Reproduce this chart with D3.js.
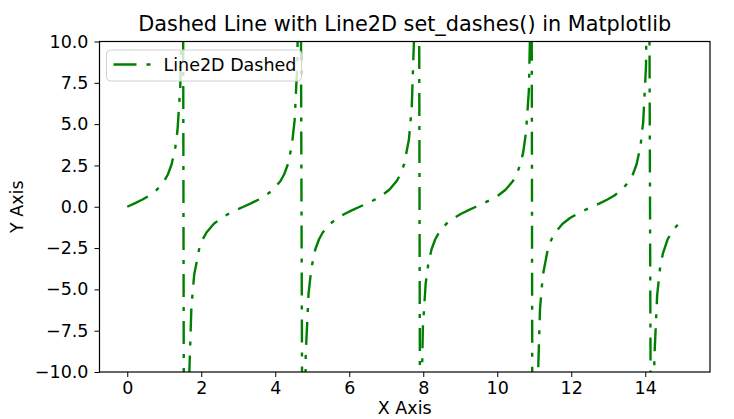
<!DOCTYPE html>
<html>
<head>
<meta charset="utf-8">
<script src="https://cdn.jsdelivr.net/npm/d3@7"></script>
<style>
  html, body { margin: 0; padding: 0; background: #fff; }
  svg text { font-family: "DejaVu Sans", sans-serif; fill: #000; }
</style>
</head>
<body>
<div id="chart"></div>
<script>
const xValues = [
  0, 0.2, 0.4, 0.6, 0.8, 1.0, 1.1, 1.2, 1.3, 1.3568, 1.4322, 1.5075,
  1.5829, 1.6583, 1.7337, 1.8090, 1.9416, 2.0416, 2.1416, 2.3416, 2.5416, 2.7416, 2.9416, 3.1416,
  3.3416, 3.5416, 3.7416, 3.9416, 4.1416, 4.2416, 4.3416, 4.4472, 4.5226, 4.5980, 4.6734,
  4.7487, 4.8241, 4.8995, 4.9749, 5.0832, 5.1832, 5.2832, 5.4832, 5.6832, 5.8832, 6.0832, 6.2832,
  6.4832, 6.6832, 6.8832, 7.0832, 7.2832, 7.3832, 7.4832, 7.6131, 7.6884, 7.7638, 7.8392,
  7.9146, 7.9899, 8.0653, 8.1407, 8.2248, 8.3248, 8.4248, 8.6248, 8.8248, 9.0248, 9.2248, 9.4248,
  9.6248, 9.8248, 10.0248, 10.2248, 10.4248, 10.5248, 10.6248, 10.7035, 10.7789, 10.8543, 10.9296,
  11.0050, 11.0804, 11.1558, 11.2312, 11.3664, 11.4664, 11.5664, 11.7664, 11.9664, 12.1664, 12.3664, 12.5664,
  12.7664, 12.9664, 13.1664, 13.3664, 13.5664, 13.6664, 13.7664, 13.8693, 13.9447, 14.0201, 14.0955,
  14.1709, 14.2462, 14.3216, 14.3970, 14.4724, 14.6, 14.708, 14.85, 15
];
const yValues = [
  0, 0.203, 0.423, 0.684, 1.030, 1.557, 1.965, 2.572, 3.602, 4.60, 7.17, 15.78,
  -82.6, -11.40, -6.08, -4.12, -2.572, -1.965, -1.557, -1.030, -0.684, -0.423, -0.203, 0,
  0.203, 0.423, 0.684, 1.030, 1.557, 1.965, 2.572, 3.68, 5.21, 8.70, 25.6,
  -27.5, -8.91, -5.28, -3.72, -2.572, -1.965, -1.557, -1.030, -0.684, -0.423, -0.203, 0,
  0.203, 0.423, 0.684, 1.030, 1.557, 1.965, 2.572, 4.07, 5.98, 11.06, 67.6,
  -16.48, -7.32, -4.66, -3.39, -2.572, -1.965, -1.557, -1.030, -0.684, -0.423, -0.203, 0,
  0.203, 0.423, 0.684, 1.030, 1.557, 1.965, 2.572, 3.32, 4.54, 7.03, 15.13,
  -106.4, -11.76, -6.19, -4.16, -2.572, -1.965, -1.557, -1.030, -0.684, -0.423, -0.203, 0,
  0.203, 0.423, 0.684, 1.030, 1.557, 1.965, 2.572, 3.64, 5.13, 8.50, 23.97,
  -29.66, -9.14, -5.36, -3.76, -2.87, -2.00, -1.557, -1.157, -0.856
];
const xTicks = [0, 2, 4, 6, 8, 10, 12, 14];
const yTicks = [-10, -7.5, -5, -2.5, 0, 2.5, 5, 7.5, 10];
const xDomain = [-0.75, 15.75];
const yDomain = [-10, 10];

const W = 734, H = 419;
const margin = { left: 99.5, right: 24, top: 41.5, bottom: 47 };
const lineColor = "#008000";
const dashes = "23,10,4,10";
const fontSize = 17.5;

const svg = d3.select("#chart").append("svg")
  .attr("width", W).attr("height", H);

const x = d3.scaleLinear().domain(xDomain).range([margin.left, W - margin.right]);
const y = d3.scaleLinear().domain(yDomain).range([H - margin.bottom, margin.top]);

svg.append("defs").append("clipPath").attr("id", "plot-clip")
  .append("rect")
  .attr("x", x.range()[0]).attr("y", y.range()[1])
  .attr("width", x.range()[1] - x.range()[0])
  .attr("height", y.range()[0] - y.range()[1]);

const pts = xValues.map((v, i) => [v, yValues[i]]);
const line = d3.line().x(d => x(d[0])).y(d => y(d[1]));

svg.append("path")
  .datum(pts)
  .attr("clip-path", "url(#plot-clip)")
  .attr("d", line)
  .attr("fill", "none")
  .attr("stroke", lineColor)
  .attr("stroke-width", 2.4)
  .attr("stroke-dasharray", dashes)
  .attr("stroke-linejoin", "round");

// axes
const fmtY = d => d3.format(".1f")(d).replace("-", "\u2212");
const xAxis = svg.append("g")
  .attr("transform", `translate(0,${y.range()[0]})`)
  .call(d3.axisBottom(x).tickValues(xTicks).tickSize(5).tickPadding(5).tickFormat(d3.format("d")));
const yAxis = svg.append("g")
  .attr("transform", `translate(${x.range()[0]},0)`)
  .call(d3.axisLeft(y).tickValues(yTicks).tickSize(5).tickPadding(6).tickFormat(fmtY));

[xAxis, yAxis].forEach(g => {
  g.select(".domain").remove();
  g.selectAll(".tick line").attr("stroke", "#000").attr("stroke-width", 1);
  g.selectAll(".tick text").attr("font-size", fontSize).attr("font-family", "DejaVu Sans").attr("fill", "#000");
});

// frame
svg.append("rect")
  .attr("x", x.range()[0]).attr("y", y.range()[1])
  .attr("width", x.range()[1] - x.range()[0])
  .attr("height", y.range()[0] - y.range()[1])
  .attr("fill", "none").attr("stroke", "#000").attr("stroke-width", 1.2);

// title & labels
const cx = (x.range()[0] + x.range()[1]) / 2;
svg.append("text")
  .attr("x", cx).attr("y", 31)
  .attr("text-anchor", "middle").attr("font-size", 20.8)
  .text("Dashed Line with Line2D set_dashes() in Matplotlib");

svg.append("text")
  .attr("x", cx).attr("y", 414)
  .attr("text-anchor", "middle").attr("font-size", fontSize)
  .text("X Axis");

svg.append("text")
  .attr("transform", `translate(23,${(y.range()[0] + y.range()[1]) / 2}) rotate(-90)`)
  .attr("text-anchor", "middle").attr("font-size", fontSize)
  .text("Y Axis");

// legend
const lg = svg.append("g").attr("transform", "translate(106.5,50)");
lg.append("rect")
  .attr("width", 195).attr("height", 31).attr("rx", 4)
  .attr("fill", "#fff").attr("fill-opacity", 0.8)
  .attr("stroke", "#d0d0d0").attr("stroke-width", 1);
lg.append("line")
  .attr("x1", 7).attr("x2", 44).attr("y1", 14.5).attr("y2", 14.5)
  .attr("stroke", lineColor).attr("stroke-width", 2.4)
  .attr("stroke-dasharray", dashes);
lg.append("text")
  .attr("x", 57).attr("y", 21).attr("font-size", fontSize)
  .text("Line2D Dashed");
</script>
</body>
</html>
